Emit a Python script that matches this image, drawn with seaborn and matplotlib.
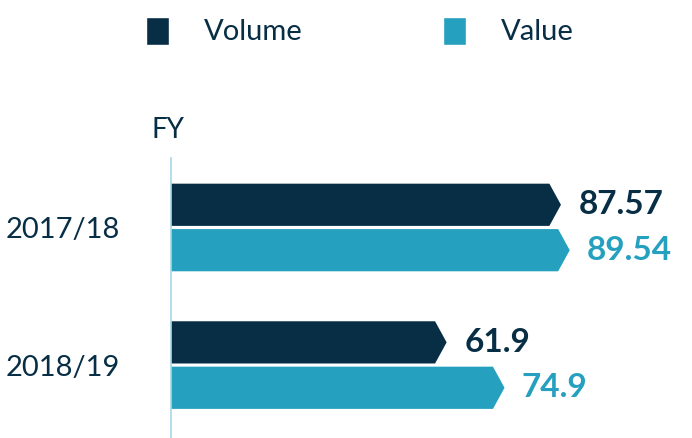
import pandas as pd
import numpy as np
import matplotlib.pyplot as plt
import seaborn as sns
from matplotlib.patches import Polygon, Patch

# data
years = ["2017/18", "2018/19"]
volume = [87.57, 61.9]
value = [89.54, 74.9]
volume_labels = ["87.57", "61.9"]
value_labels = ["89.54", "74.9"]

dark = "#082E45"
teal = "#25A0BE"
axis_col = "#A9D7EA"

df = pd.DataFrame({
    "FY": years * 2,
    "Series": ["Volume"] * 2 + ["Value"] * 2,
    "Amount": volume + value,
})

sns.set_style("white")
plt.rcParams["font.family"] = ["Lato", "DejaVu Sans"]

fig = plt.figure(figsize=(6.92, 4.38), dpi=100)
ax = fig.add_axes([171 / 692, 0.0, 1 - 171 / 692, (438 - 158) / 438])

sns.barplot(data=df, x="Amount", y="FY", hue="Series", orient="h",
            palette=[dark, teal], width=0.66, gap=0.07, legend=False, ax=ax)

ax.set_xlim(0, 117)
ax.set_ylim(1.53, -0.505)

# turn bars into chevron-tipped shapes
tip = 2.6
for cont, col in zip(ax.containers, [dark, teal]):
    for p in cont.patches:
        x0, y0 = p.get_x(), p.get_y()
        w, h = p.get_width(), p.get_height()
        x1, y1 = x0 + w, y0 + h
        poly = Polygon([(x0, y0), (x1 - tip, y0), (x1, y0 + h / 2),
                        (x1 - tip, y1), (x0, y1)], closed=True,
                       facecolor=col, edgecolor="none")
        ax.add_patch(poly)
        p.set_visible(False)

ax.bar_label(ax.containers[0], labels=volume_labels, padding=13,
             color=dark, fontsize=24, fontweight="bold")
ax.bar_label(ax.containers[1], labels=value_labels, padding=12,
             color=teal, fontsize=24, fontweight="bold")

sns.despine(ax=ax, top=True, right=True, bottom=True, left=False)
ax.spines["left"].set_color(axis_col)
ax.spines["left"].set_linewidth(1.2)
ax.set_xticks([])
ax.set_xlabel("")
ax.set_ylabel("")
ax.tick_params(axis="y", length=0, pad=37, labelsize=21, labelcolor=dark)

fig.text(151 / 692, 1 - 130 / 438, "FY", fontsize=20, color=dark,
         ha="left", va="center")

handles = [Patch(facecolor=dark, label="Volume"), Patch(facecolor=teal, label="Value")]
fig.legend(handles=handles, loc="center", bbox_to_anchor=(0.52, 1 - 31 / 438),
           ncol=2, frameon=False, fontsize=21, labelcolor=dark,
           handlelength=0.8, handleheight=1.1, handletextpad=1.2,
           columnspacing=4.8)

fig.savefig("out.png", dpi=100)
